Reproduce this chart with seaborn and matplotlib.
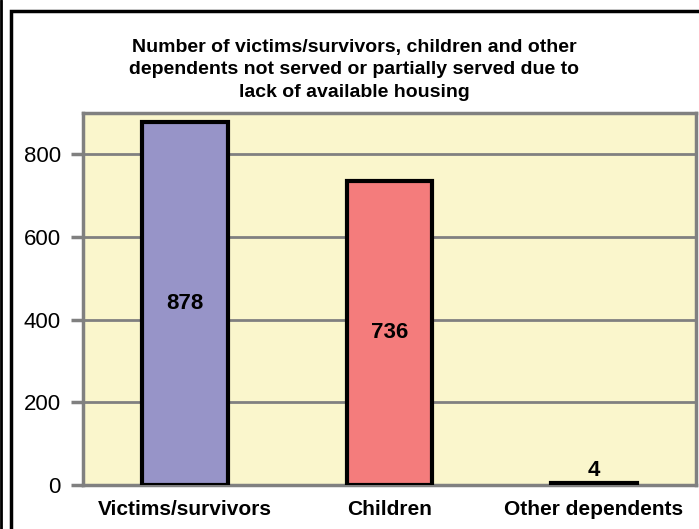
import matplotlib
matplotlib.use("Agg")
import matplotlib.pyplot as plt
import seaborn as sns
import pandas as pd
from matplotlib.patches import Rectangle
from matplotlib.lines import Line2D

categories = ["Victims/survivors", "Children", "Other dependents"]
values = [878, 736, 4]
bar_colors = ["#9794C8", "#F47C7C", "#F47C7C"]
yticks = [0, 200, 400, 600, 800]
title = ("Number of victims/survivors, children and other\n"
         "dependents not served or partially served due to\n"
         "lack of available housing")

sns.set_theme(style="white")
plt.rcParams["font.family"] = ["Liberation Sans", "DejaVu Sans"]

df = pd.DataFrame({"category": categories, "value": values})

W, H = 699, 529
fig = plt.figure(figsize=(W / 100, H / 100), dpi=100)
fig.patch.set_facecolor("white")
ax = fig.add_axes([83 / W, 1 - 485 / H, 613 / W, 372 / H])
ax.set_facecolor("#FAF6CC")

sns.barplot(data=df, x="category", y="value", hue="category", palette=bar_colors,
            legend=False, width=0.42, saturation=1, edgecolor="black",
            linewidth=3, ax=ax, zorder=3)

ax.set_ylim(0, 900)
ax.set_xlim(-0.5, 2.5)
ax.set_yticks(yticks)
ax.set_yticklabels([str(t) for t in yticks], fontsize=16, color="black")
ax.set_xticks(range(len(categories)))
ax.set_xticklabels(categories, fontsize=15, fontweight="bold", color="black")
ax.set_xticks([-0.5, 0.5, 1.5, 2.5], minor=True)
ax.tick_params(axis="x", which="major", length=0, pad=11)
ax.tick_params(axis="x", which="minor", length=9, width=2.5, color="#808080", direction="out")
ax.tick_params(axis="y", length=9, width=2.5, color="#808080", direction="out", pad=7, left=True)
ax.set_xlabel("")
ax.set_ylabel("")

for y in yticks[1:]:
    ax.axhline(y, color="#808080", lw=2, zorder=1)

for s in ax.spines.values():
    s.set_color("#808080")
    s.set_linewidth(2.5)
    s.set_visible(True)

conts = ax.containers
for i, c in enumerate(conts):
    if values[i] > 50:
        ax.bar_label(c, labels=[str(values[i])], label_type="center",
                     fontsize=16, fontweight="bold", color="black")
    else:
        ax.bar_label(c, labels=[str(values[i])], label_type="edge", padding=2,
                     fontsize=16, fontweight="bold", color="black")

fig.text(354 / W, 1 - 70 / H, title, ha="center", va="center", fontsize=14,
         fontweight="bold", linespacing=1.4, color="black")

# chart frame
fig.patches.append(Rectangle((10.5 / W, -0.1), 1.2, 1 - 10.5 / H + 0.1,
                             transform=fig.transFigure, fill=False,
                             edgecolor="black", linewidth=2.5))
fig.lines.append(Line2D([1 / W, 1 / W], [0, 1], transform=fig.transFigure,
                        color="black", linewidth=2))

fig.savefig("out.png", dpi=100)
